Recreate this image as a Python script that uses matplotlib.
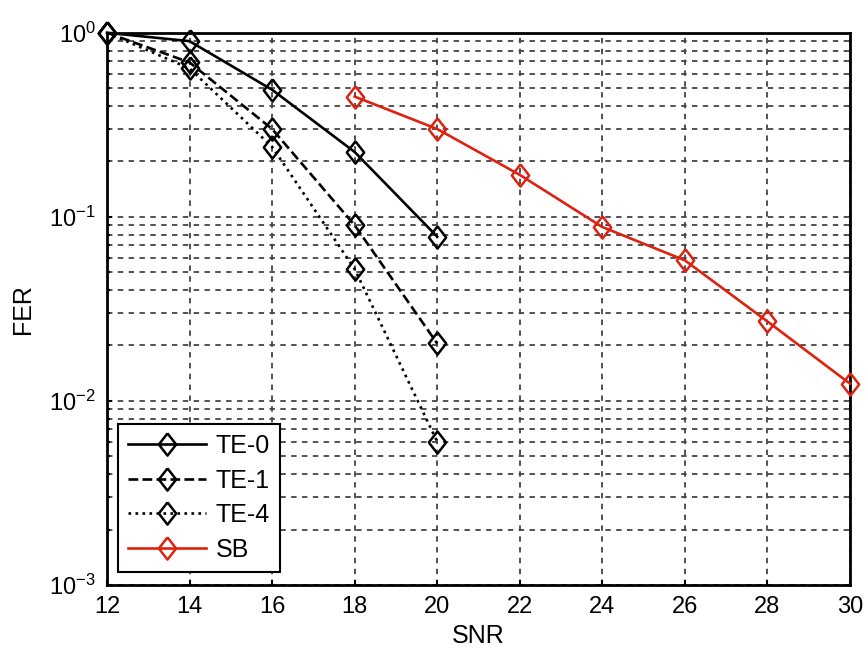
import numpy as np
import matplotlib
matplotlib.use('Agg')
import matplotlib.pyplot as plt

plt.rcParams['font.family'] = ['Liberation Sans', 'DejaVu Sans']

snr_te = [12, 14, 16, 18, 20]
fer_te0 = [1.0, 0.90, 0.49, 0.225, 0.078]
fer_te1 = [1.0, 0.69, 0.30, 0.090, 0.0205]
fer_te4 = [1.0, 0.64, 0.24, 0.052, 0.0060]

snr_sb = [18, 20, 22, 24, 26, 28, 30]
fer_sb = [0.45, 0.30, 0.169, 0.088, 0.058, 0.027, 0.0124]

xticks = [12, 14, 16, 18, 20, 22, 24, 26, 28, 30]

# slightly narrow diamond, like the matlab one
diamond = [(0, 1), (0.78, 0), (0, -1), (-0.78, 0), (0, 1)]

fig = plt.figure(figsize=(8.67, 6.55), dpi=100)
ax = fig.add_axes([0.1234, 0.107, 0.857, 0.843])

mk = dict(marker=diamond, markersize=16, markerfacecolor='none', markeredgewidth=1.8,
          lw=1.9, clip_on=False, zorder=5)
ax.semilogy(snr_te, fer_te0, '-', color='black', label='TE-0', **mk)
ax.semilogy(snr_te, fer_te1, '--', color='black', label='TE-1', **mk)
ax.semilogy(snr_te, fer_te4, ':', color='black', label='TE-4', **mk)
ax.semilogy(snr_sb, fer_sb, '-', color='#dd2211', label='SB', **mk)

ax.set_xlim(12, 30)
ax.set_ylim(1e-3, 1)
ax.set_xticks(xticks)
ax.grid(True, which='both', linestyle=(0, (3, 3)), color='#444444', lw=1.3)
for s in ax.spines.values():
    s.set_linewidth(2)
ax.tick_params(which='both', direction='in', labelsize=17, width=1.5)
ax.tick_params(axis='x', pad=8)
ax.tick_params(axis='y', pad=8)
ax.set_xlabel('SNR', fontsize=18, labelpad=4)
ax.set_ylabel('FER', fontsize=18, labelpad=10)

leg = ax.legend(loc='lower left', bbox_to_anchor=(0.015, 0.024), borderaxespad=0,
                fontsize=18, fancybox=False, edgecolor='black', framealpha=1,
                handlelength=3.1, handletextpad=0.4, borderpad=0.4, labelspacing=0.42)
leg.get_frame().set_linewidth(1.5)

fig.savefig('out.png', dpi=100)
